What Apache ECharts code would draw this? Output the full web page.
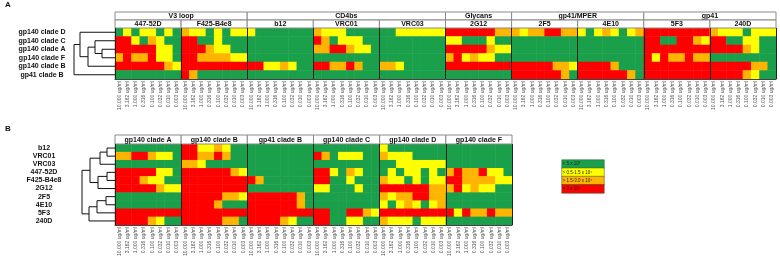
<!DOCTYPE html>
<html>
<head>
<meta charset="utf-8">
<script src="https://cdn.jsdelivr.net/npm/echarts@6/dist/echarts.min.js"></script>
<style>
html,body{margin:0;padding:0;background:#fff}
#chart{width:780px;height:261px}
</style>
</head>
<body>
<div id="chart"></div>
<script>
// concentration of each column inside an 8-wide block
var concLabels = ['10.000 ug/ml','3.162 ug/ml','1.000 ug/ml','0.316 ug/ml','0.100 ug/ml','0.032 ug/ml','0.010 ug/ml','0.003 ug/ml'];
var antibodies = ['447-52D','F425-B4e8','b12','VRC01','VRC03','2G12','2F5','4E10','5F3','240D'];
var epitopeGroups = ['V3 loop','CD4bs','Glycans','gp41/MPER','gp41'];
var groupSizes = [2, 3, 1, 2, 2];
var viruses = ['gp140 clade D','gp140 clade C','gp140 clade A','gp140 clade F','gp140 clade B','gp41 clade B'];

// score per antibody (same order as antibodies), one digit per concentration
// 0 = <5x10^3, 1 = 0.5-1.5x10^4, 2 = 1.5-3.0x10^4, 3 = >3x10^4
var cladeD = ['01011010','21101011','10000000','21110000','00111111','33333322','21223322','10121012','33333333','21110111'];
var cladeC = ['33102100','33001000','00000000','32011100','00000000','11000100','00000000','00000000','33003321','33001100'];
var cladeA = ['33333110','33321100','00000000','22332110','00000000','33333211','00000000','00000000','33333333','33332100'];
var cladeF = ['23223110','33222211','00000000','00000000','00000000','23121100','00000000','00000000','31322322','00000000'];
var cladeB = ['33333321','33333333','33112100','33223200','22100000','33333333','33333221','33332000','33333333','33333220'];
var gp41B  = ['00000000','32000000','00000000','00000000','00000000','00000000','33333320','33333320','33333333','33332100'];

// panel B ordering
var rowsB = ['b12','VRC01','VRC03','447-52D','F425-B4e8','2G12','2F5','4E10','5F3','240D'];
var colsB = ['gp140 clade A','gp140 clade B','gp41 clade B','gp140 clade C','gp140 clade D','gp140 clade F'];

// dendrograms: [child, child, height], leaves are 0..n-1, merges get n, n+1, ...
var treeA = [[2,3,13],[1,6,20],[7,4,27],[0,8,35],[9,5,41]];
var treeB = [[0,1,8],[10,2,15],[3,4,8],[12,5,17],[11,13,25],[6,7,9],[15,8,18],[16,9,26],[14,17,33]];

var legendLabels = ['< 5 x 10\u00b3','> 0.5-1.5 x 10\u2074','> 1.5-3.0 x 10\u2074','> 3 x 10\u2074'];
var colors = ['#1aa04a','#ffff00','#ffb400','#ff0000'];

var FONT = 'Liberation Sans';
var scores = [cladeD, cladeC, cladeA, cladeF, cladeB, gp41B];

var dataA = [];
scores.forEach(function (row, r) {
    row.forEach(function (s, ab) {
        for (var c = 0; c < 8; c++) dataA.push([ab * 8 + c, r, +s[c]]);
    });
});

var dataB = [];
rowsB.forEach(function (ab, r) {
    var ai = antibodies.indexOf(ab);
    colsB.forEach(function (v, k) {
        var s = scores[viruses.indexOf(v)][ai];
        for (var c = 0; c < 8; c++) dataB.push([k * 8 + c, r, +s[c]]);
    });
});

function treeLines(merges, n) {
    var pos = [], hgt = [], out = [];
    for (var i = 0; i < n; i++) { pos.push(i); hgt.push(0); }
    merges.forEach(function (m) {
        var a = m[0], b = m[1], h = m[2];
        out.push({coords: [[hgt[a], pos[a]], [h, pos[a]], [h, pos[b]], [hgt[b], pos[b]]]});
        pos.push((pos[a] + pos[b]) / 2);
        hgt.push(h);
    });
    return out;
}

// header boxes
var headA = [];
var st = 0;
epitopeGroups.forEach(function (g, i) {
    headA.push({name: g, start: st, end: st + groupSizes[i] * 8, row: 0});
    st += groupSizes[i] * 8;
});
antibodies.forEach(function (a, i) {
    headA.push({name: a, start: i * 8, end: i * 8 + 8, row: 1});
});
var headB = colsB.map(function (v, i) {
    return {name: v, start: i * 8, end: i * 8 + 8, row: 0};
});

function headerSeries(items, xi, yi) {
    return {
        type: 'custom', xAxisIndex: xi, yAxisIndex: yi, silent: true,
        encode: {x: [0, 1], y: 2},
        data: items.map(function (it) { return [it.start, it.end, it.row]; }),
        renderItem: function (params, api) {
            var it = items[params.dataIndex];
            var p0 = api.coord([api.value(0), api.value(2)]);
            var p1 = api.coord([api.value(1), api.value(2) + 1]);
            return {
                type: 'group',
                children: [{
                    type: 'rect',
                    shape: {x: p0[0], y: p0[1], width: p1[0] - p0[0], height: p1[1] - p0[1]},
                    style: {fill: '#fff', stroke: '#8a8a8a', lineWidth: 1}
                }, {
                    type: 'text',
                    style: {
                        text: it.name, x: (p0[0] + p1[0]) / 2, y: (p0[1] + p1[1]) / 2 + 0.5,
                        align: 'center', verticalAlign: 'middle',
                        font: 'bold 7px ' + FONT, fill: '#111'
                    }
                }]
            };
        }
    };
}

function concAxis(grid, n) {
    var d = [];
    for (var i = 0; i < n; i++) d.push(i);
    return {
        type: 'category', gridIndex: grid, data: d, position: 'bottom', z: 5,
        axisLine: {show: true, lineStyle: {color: '#444', width: 1}},
        axisTick: {show: false},
        splitLine: {show: false},
        axisLabel: {
            interval: 0, rotate: 90, fontSize: 5, color: '#555', margin: 2, fontFamily: FONT,
            formatter: function (v, i) { return concLabels[i % 8]; }
        }
    };
}

function dividerAxis(grid, names) {
    return {
        type: 'category', gridIndex: grid, data: names, position: 'top', z: 5,
        axisLine: {show: false}, axisTick: {show: false}, axisLabel: {show: false},
        splitLine: {show: true, interval: 0, lineStyle: {color: '#222', width: 1}}
    };
}

function rowAxis(grid, names, margin) {
    return {
        type: 'category', gridIndex: grid, data: names, inverse: true,
        axisLine: {show: false}, axisTick: {show: false}, splitLine: {show: false},
        axisLabel: {
            interval: 0, align: 'center', margin: margin, fontSize: 7, fontWeight: 'bold',
            color: '#111', fontFamily: FONT
        }
    };
}

function hidden(grid, min, max, inverse) {
    return {type: 'value', gridIndex: grid, min: min, max: max, inverse: !!inverse, show: false};
}

var lineStyle = {color: '#111', width: 1, opacity: 1};

var option = {
    animation: false,
    textStyle: {fontFamily: FONT},
    title: [
        {text: 'A', left: 5, top: 1, padding: 0, textStyle: {fontSize: 8, fontWeight: 'bold', color: '#111'}},
        {text: 'B', left: 5, top: 125, padding: 0, textStyle: {fontSize: 8, fontWeight: 'bold', color: '#111'}}
    ],
    grid: [
        {left: 115, top: 28, width: 661, height: 51},
        {left: 115, top: 12, width: 661, height: 16},
        {left: 68, top: 28, width: 47, height: 51},
        {left: 115, top: 144, width: 397, height: 81},
        {left: 115, top: 135, width: 397, height: 9},
        {left: 68, top: 144, width: 47, height: 81},
        {left: 562, top: 160, width: 42, height: 33}
    ],
    xAxis: [
        concAxis(0, 80),
        dividerAxis(0, antibodies),
        hidden(1, 0, 80),
        hidden(2, 0, 47, true),
        concAxis(3, 48),
        dividerAxis(3, colsB),
        hidden(4, 0, 48),
        hidden(5, 0, 47, true),
        {type: 'category', gridIndex: 6, data: ['k'], show: false}
    ],
    yAxis: [
        rowAxis(0, viruses, 73),
        hidden(1, 0, 2, true),
        hidden(2, -0.5, 5.5, true),
        rowAxis(3, rowsB, 71),
        hidden(4, 0, 1, true),
        hidden(5, -0.5, 9.5, true),
        {type: 'category', gridIndex: 6, data: legendLabels, inverse: true, show: false}
    ],
    visualMap: {
        type: 'piecewise', show: false, dimension: 2, seriesIndex: [0, 1, 2],
        pieces: colors.map(function (c, i) { return {value: i, color: c}; })
    },
    series: [
        {type: 'heatmap', xAxisIndex: 0, yAxisIndex: 0, data: dataA, silent: true},
        {type: 'heatmap', xAxisIndex: 4, yAxisIndex: 3, data: dataB, silent: true},
        {
            type: 'heatmap', xAxisIndex: 8, yAxisIndex: 6, silent: true,
            data: legendLabels.map(function (l, i) { return [0, i, i]; }),
            itemStyle: {borderColor: '#2d5a2d', borderWidth: 0.5},
            label: {
                show: true, position: 'insideLeft', distance: 1, fontSize: 4.5, color: '#222',
                formatter: function (p) { return legendLabels[p.dataIndex]; }
            }
        },
        headerSeries(headA, 2, 1),
        headerSeries(headB, 6, 4),
        {
            type: 'lines', coordinateSystem: 'cartesian2d', xAxisIndex: 3, yAxisIndex: 2,
            polyline: true, silent: true, lineStyle: lineStyle, data: treeLines(treeA, viruses.length)
        },
        {
            type: 'lines', coordinateSystem: 'cartesian2d', xAxisIndex: 7, yAxisIndex: 5,
            polyline: true, silent: true, lineStyle: lineStyle, data: treeLines(treeB, rowsB.length)
        }
    ]
};

var chart = echarts.init(document.getElementById('chart'), null, {renderer: 'canvas'});
chart.setOption(option);
</script>
</body>
</html>
